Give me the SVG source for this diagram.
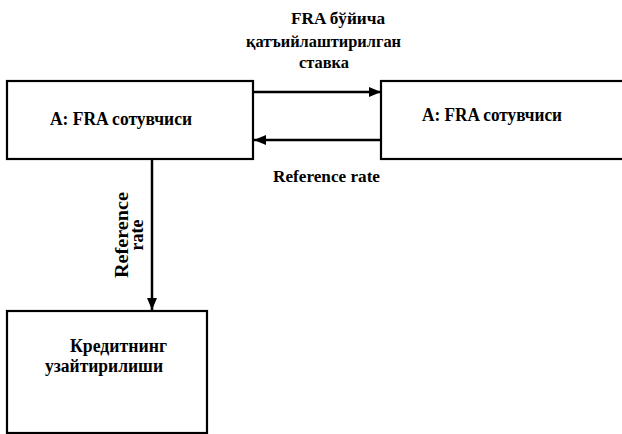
<svg xmlns="http://www.w3.org/2000/svg" width="622" height="434" viewBox="0 0 622 434">
<style>
.box{fill:#fff;stroke:#000;stroke-width:2.2}
.ln{stroke:#000;stroke-width:2.5;fill:none}
text{font-family:"Liberation Serif","Times New Roman",serif;font-weight:bold;fill:#000}
.t18{font-size:18px}
.t17{font-size:17px}
.t16{font-size:16px}
</style>
<defs>
<marker id="ah" viewBox="0 0 12 10" refX="12" refY="5" markerWidth="12" markerHeight="10" markerUnits="userSpaceOnUse" orient="auto">
<path d="M0,0 L12,5 L0,10 Z" fill="#000"/>
</marker>
</defs>
<rect width="622" height="434" fill="#fff"/>
<g id="node-left">
<rect class="box" x="7" y="81" width="246" height="78"/>
<text class="t18" x="50" y="125" textLength="142" lengthAdjust="spacingAndGlyphs">A: FRA сотувчиси</text>
</g>
<g id="node-right">
<rect class="box" x="381" y="81" width="250" height="78"/>
<text class="t18" x="422" y="121" textLength="140" lengthAdjust="spacingAndGlyphs">A: FRA сотувчиси</text>
</g>
<g id="node-bottom">
<rect class="box" x="7" y="311" width="200" height="122"/>
<text class="t18" x="70" y="352" textLength="97" lengthAdjust="spacingAndGlyphs">Кредитнинг</text>
<text class="t18" x="45" y="372" textLength="118" lengthAdjust="spacingAndGlyphs">узайтирилиши</text>
</g>
<g id="connectors">
<line class="ln" x1="254" y1="92" x2="381" y2="92" marker-end="url(#ah)"/>
<line class="ln" x1="381" y1="140" x2="254" y2="140" marker-end="url(#ah)"/>
<line class="ln" x1="152" y1="160" x2="152" y2="310" marker-end="url(#ah)"/>
<text class="t17" x="291" y="24" textLength="94" lengthAdjust="spacingAndGlyphs">FRA бўйича</text>
<text class="t17" x="246" y="47" textLength="155" lengthAdjust="spacingAndGlyphs">қатъийлаштирилган</text>
<text class="t17" x="299" y="68" textLength="50" lengthAdjust="spacingAndGlyphs">ставка</text>
<text class="t16" x="273" y="182" textLength="107" lengthAdjust="spacingAndGlyphs">Reference rate</text>
<text class="t18" transform="translate(128,235) rotate(-90)" text-anchor="middle"><tspan x="0" y="0" textLength="86" lengthAdjust="spacingAndGlyphs">Reference</tspan><tspan x="0" y="15">rate</tspan></text>
</g>
</svg>
